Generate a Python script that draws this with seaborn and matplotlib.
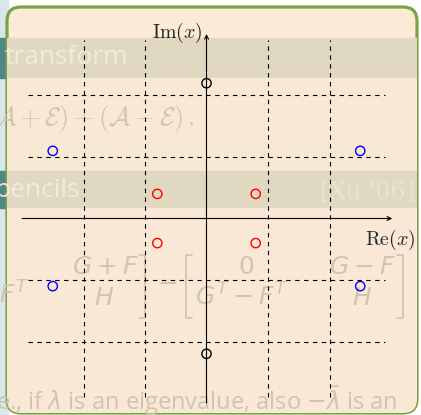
import matplotlib
matplotlib.use("Agg")
import matplotlib.pyplot as plt
from matplotlib.patches import FancyBboxPatch, Rectangle
import seaborn as sns
import pandas as pd

# Eigenvalues in the complex plane
groups = ["black", "black",
          "blue", "blue", "blue", "blue",
          "red", "red", "red", "red"]
re_vals = [0.0, 0.0, -2.5, 2.5, -2.5, 2.5, -0.8, 0.8, -0.8, 0.8]
im_vals = [2.2, -2.2, 1.1, 1.1, -1.1, -1.1, 0.4, 0.4, -0.4, -0.4]
grid_ticks = [-2, -1, 1, 2]
point_colors = {"black": "#000000", "blue": "#0000ff", "red": "#ff0000"}

W, H = 421, 415
sns.set_theme(style="white")
plt.rcParams["mathtext.fontset"] = "cm"
plt.rcParams["font.family"] = ["Open Sans", "DejaVu Sans"]

fig = plt.figure(figsize=(W / 100, H / 100), dpi=100)

# ---- slide backdrop, in pixel coordinates ----
bg = fig.add_axes([0, 0, 1, 1])
bg.set_xlim(0, W)
bg.set_ylim(H, 0)
bg.axis("off")
bg.add_patch(Rectangle((0, 0), W, H, color="#ffffff", zorder=0))
# slide strip visible on the left of the frame
bg.add_patch(Rectangle((0, 0), 8, H, color="#d9e6ea", zorder=0.5))
bg.add_patch(Rectangle((0, 38), 8, 40, color="#4f8786", zorder=0.6))
bg.add_patch(Rectangle((0, 171), 8, 37, color="#4f8786", zorder=0.6))

frame = FancyBboxPatch((7, 7), 410, 406,
                       boxstyle="round,pad=0,rounding_size=14",
                       facecolor="#fcebd6", edgecolor="#7ba345",
                       linewidth=2.3, zorder=1)
bg.add_patch(frame)
bands = [(7, 38, 40, "#e0d8c1"), (7, 78, 60, "#f9e9d4"),
         (7, 138, 33, "#f7e8d3"), (7, 171, 37, "#e0d8c1"),
         (7, 208, 205, "#f8e8d5")]
for x0, y0, hgt, col in bands:
    r = Rectangle((x0, y0), 412, hgt, color=col, zorder=1.1)
    bg.add_patch(r)
    r.set_clip_path(frame)

fade = "#d0c5b0"
light = "#f3ead8"
sans_math = dict(math_fontfamily="dejavusans")
bg.text(5, 57, "transform", fontsize=19, color=light, va="center", ha="left", zorder=1.5)
bg.text(-6, 118, r"$\mathcal{A}+\mathcal{E})+(\mathcal{A}-\mathcal{E})\,.$",
        fontsize=19, color=fade, va="center", ha="left", zorder=1.5)
bg.text(-5, 190, "pencils", fontsize=19, color=light, va="center", ha="left", zorder=1.5)
bg.text(415, 192, "[Xu '06]", fontsize=17, family=["DejaVu Serif"],
        color="#ece3cf", va="center", ha="right", zorder=1.5)
for x, y, s in [(105, 267, r"$G+F$"), (104, 298, r"$H$"), (14, 296, r"$F^T$"),
                (246, 267, r"$0$"), (242, 298, r"$G^T-F^T$"),
                (362, 267, r"$G-F$"), (362, 298, r"$H$"),
                (167, 283, r"$-$")]:
    bg.text(x, y, s, fontsize=18, color=fade, va="center", ha="center",
            zorder=1.5, **sans_math)
bg.plot([139, 145, 145, 139], [255, 255, 318, 318], color=fade, lw=1.2, zorder=1.5)
bg.plot([192, 186, 186, 192], [255, 255, 318, 318], color=fade, lw=1.2, zorder=1.5)
bg.plot([397, 403, 403, 397], [255, 255, 318, 318], color=fade, lw=1.2, zorder=1.5)
bg.text(-4, 401, r"e., if $\lambda$ is an eigenvalue, also $-\bar{\lambda}$ is an",
        fontsize=17, color=fade, va="center", ha="left", zorder=1.5, **sans_math)

# ---- complex plane ----
unit = 61.5
ox, oy = 206.5, 218.5
ax = fig.add_axes([0, 0, 1, 1], zorder=2)
ax.patch.set_alpha(0)
ax.set_xlim(-ox / unit, (W - ox) / unit)
ax.set_ylim(-(H - oy) / unit, oy / unit)
ax.axis("off")

ext = 2.9
for t in grid_ticks:
    ax.plot([t, t], [-ext, ext], color="black", lw=0.8, ls=(0, (4, 4)))
    ax.plot([-ext, ext], [t, t], color="black", lw=0.8, ls=(0, (4, 4)))

arrow = dict(arrowstyle="->", color="black", lw=0.8, shrinkA=0, shrinkB=0,
             mutation_scale=7)
ax.annotate("", xy=(3.02, 0), xytext=(-3.0, 0), arrowprops=arrow)
ax.annotate("", xy=(0, 3.0), xytext=(0, -3.0), arrowprops=arrow)
ax.text(-0.07, 3.02, r"$\mathrm{Im}(x)$", fontsize=14.3, ha="right", va="center")
ax.text(3.39, -0.35, r"$\mathrm{Re}(x)$", fontsize=14.3, ha="right", va="center")

df = pd.DataFrame({"re": re_vals, "im": im_vals, "group": groups})
for g, sub in df.groupby("group"):
    sns.scatterplot(data=sub, x="re", y="im", ax=ax, s=45, marker="o",
                    facecolor="none", edgecolor=point_colors[g], linewidth=1.0,
                    legend=False, zorder=3)
ax.axis("off")

fig.savefig("out.png", dpi=100)
